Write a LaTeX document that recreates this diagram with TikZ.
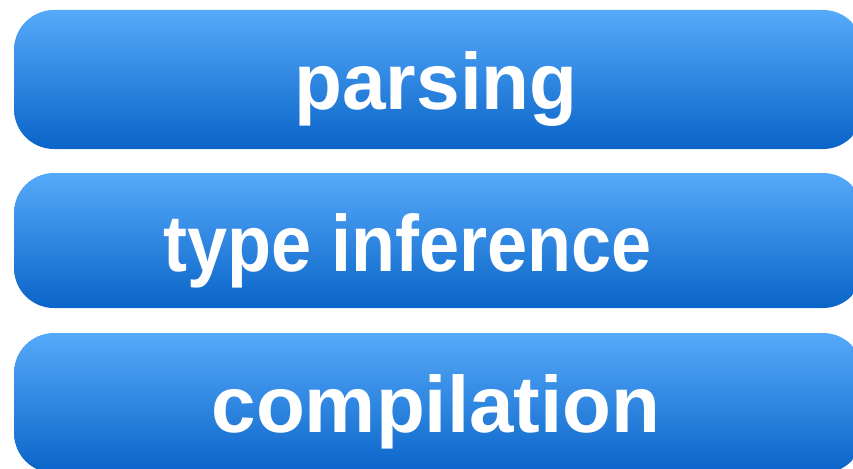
\documentclass[tikz,border=0pt]{standalone}
\usepackage{fontspec}
\setmainfont{Liberation Sans}
\definecolor{boxtop}{RGB}{86,170,250}
\definecolor{boxbot}{RGB}{10,100,200}
\tikzset{
  stagebox/.style={rounded corners=40pt, top color=boxtop, bottom color=boxbot, draw=none},
  stagelabel/.style={text=white, font=\bfseries\fontsize{80}{80}\selectfont, anchor=base, inner sep=0pt}
}
\begin{document}
\begin{tikzpicture}[x=1pt,y=-1pt]
\useasboundingbox (0,0) rectangle (853,468);
\clip (0,0) rectangle (853,468);
\path[stagebox] (14,10) rectangle (863,149);
\path[stagebox] (14,173) rectangle (863,308);
\path[stagebox] (14,333) rectangle (863,473);
\node[stagelabel] (parsing) at (436,110) {\scalebox{0.98}[1]{parsing}};
\node[stagelabel] (typeinf) at (408,271) {\scalebox{0.9}[1]{type inference}};
\node[stagelabel] (compil) at (436,432) {compilation};
\end{tikzpicture}
\end{document}
